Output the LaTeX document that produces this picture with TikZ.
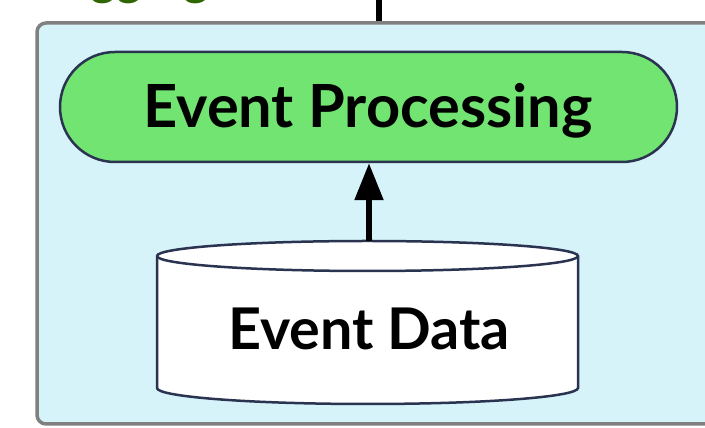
\documentclass[tikz,border=0pt]{standalone}
\usepackage{fontspec}
\setmainfont{Lato}
\usetikzlibrary{shapes.misc,arrows.meta}
\definecolor{boxfill}{HTML}{D5F3F9}
\definecolor{boxline}{HTML}{808080}
\definecolor{pillfill}{HTML}{72E472}
\definecolor{navy}{HTML}{2A3350}
\definecolor{titlegreen}{HTML}{2E6600}
\tikzset{
  groupbox/.style={draw=boxline, line width=3.5pt, fill=boxfill, rounded corners=9pt, rectangle, minimum width=683pt, minimum height=401pt, inner sep=0pt},
  pill/.style={rounded rectangle, draw=navy, line width=2.5pt, fill=pillfill, minimum width=617pt, minimum height=110pt, inner sep=0pt},
  dbline/.style={draw=navy, line width=2.5pt},
  flow/.style={line width=5.5pt, -{Triangle[width=28pt,length=37pt]}},
  lbl/.style={text=black, inner sep=0pt, anchor=base},
}
\begin{document}
\begin{tikzpicture}[x=1pt,y=1pt]
\useasboundingbox (0,0) rectangle (705,428);
% partially visible heading
\node[font=\fontsize{52}{56}\selectfont\bfseries\itshape, text=titlegreen, inner sep=0pt, anchor=base east] (heading) at (213,433) {Logging};
% group box
\node[groupbox] (group) at (378.5,204.5) {};
\coordinate (feed) at (379,440);
\draw[line width=5.5pt] (feed) -- (group.north -| feed);
% pill
\node[pill] (proc) at (368.5,321) {};
\node[lbl, font=\fontsize{59.5}{62}\selectfont\bfseries] (proctext) at (368,300) {Event Processing};
% cylinder
\path[dbline, fill=white] (157,172) -- (157,40)
  arc[start angle=180, end angle=360, x radius=210.5, y radius=16]
  -- (578,172)
  arc[start angle=0, end angle=180, x radius=210.5, y radius=15] -- cycle;
\draw[dbline] (157,172) arc[start angle=180, end angle=360, x radius=210.5, y radius=15];
\node[inner sep=0pt, minimum width=421pt, minimum height=163pt] (db) at (367.5,105.5) {};
\node[lbl, font=\fontsize{57.5}{60}\selectfont\bfseries] (dbtext) at (369,78) {Event Data};
% connector
\draw[flow] (db.north -| 369,0) -- (proc.south -| 369,0);
\end{tikzpicture}
\end{document}
